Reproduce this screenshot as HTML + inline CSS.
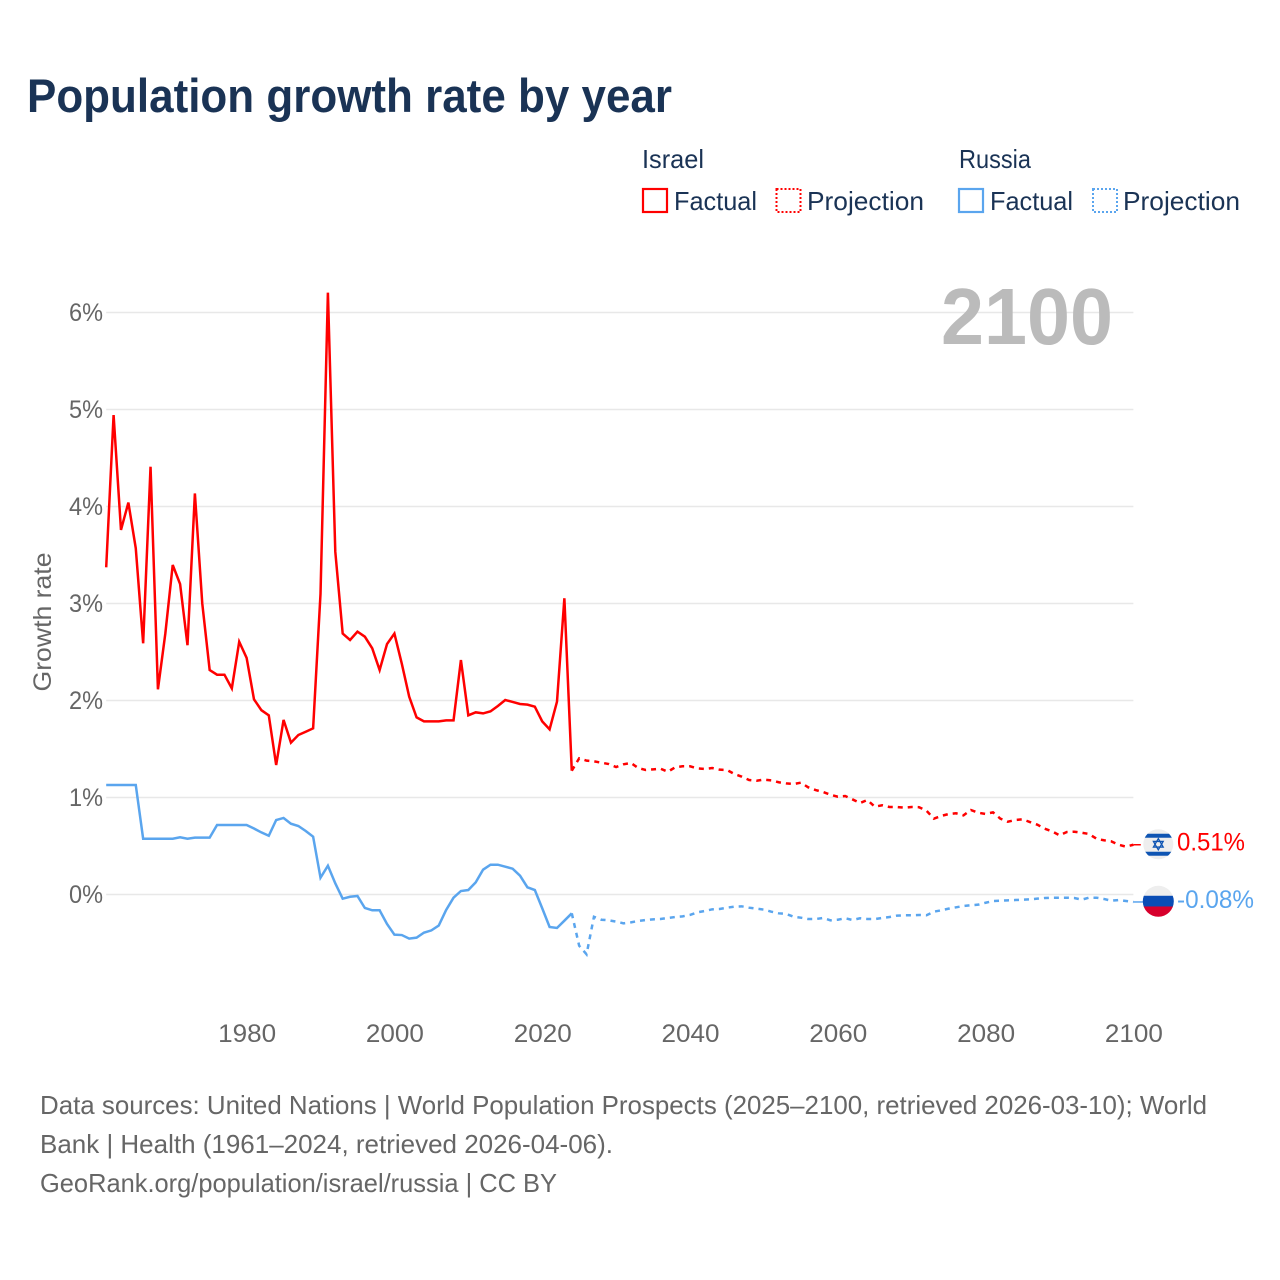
<!DOCTYPE html>
<html lang="en">
<head>
<meta charset="utf-8">
<title>Population growth rate by year</title>
<style>
html,body{margin:0;padding:0;background:#fff;}
svg{display:block;font-family:"Liberation Sans",sans-serif;}
</style>
</head>
<body>
<svg id="chart" xmlns="http://www.w3.org/2000/svg" width="1280" height="1280" viewBox="0 0 1280 1280">
  <rect x="0" y="0" width="1280" height="1280" fill="#ffffff"/>
  <text x="27" y="112" font-size="47" font-weight="700" fill="#1a3355" textLength="645" lengthAdjust="spacingAndGlyphs">Population growth rate by year</text>

  <g font-size="26" fill="#1a3355">
    <text x="642" y="168" textLength="62" lengthAdjust="spacingAndGlyphs">Israel</text>
    <text x="959" y="168" textLength="72" lengthAdjust="spacingAndGlyphs">Russia</text>
    <g>
      <rect x="643" y="189" width="24" height="23" fill="none" stroke="#ff0000" stroke-width="2.2"/>
      <text x="674" y="210" textLength="83" lengthAdjust="spacingAndGlyphs">Factual</text>
    </g>
    <g>
      <rect x="776.5" y="189" width="24" height="23" fill="none" stroke="#ff0000" stroke-width="2" stroke-dasharray="2 2"/>
      <text x="807" y="210" textLength="117" lengthAdjust="spacingAndGlyphs">Projection</text>
    </g>
    <g>
      <rect x="959" y="189" width="24" height="23" fill="none" stroke="#5aa5ee" stroke-width="2.2"/>
      <text x="990" y="210" textLength="83" lengthAdjust="spacingAndGlyphs">Factual</text>
    </g>
    <g>
      <rect x="1093" y="189" width="24" height="23" fill="none" stroke="#5aa5ee" stroke-width="2" stroke-dasharray="2 2"/>
      <text x="1123" y="210" textLength="117" lengthAdjust="spacingAndGlyphs">Projection</text>
    </g>
  </g>

  <g id="grid"></g>
  <g id="yticks" font-size="25" fill="#666666" text-anchor="end"></g>
  <g id="xticks" font-size="25" fill="#666666" text-anchor="middle"></g>
  <text transform="translate(51,622) rotate(-90)" font-size="25" fill="#666666" text-anchor="middle" textLength="139" lengthAdjust="spacingAndGlyphs">Growth rate</text>
  <text x="941" y="344" font-size="80" font-weight="700" fill="#bbbbbb" textLength="172" lengthAdjust="spacingAndGlyphs">2100</text>

  <g id="series"></g>
  <g id="ends"></g>

  <g font-size="26" fill="#666666">
    <text x="40" y="1114" textLength="1167" lengthAdjust="spacingAndGlyphs">Data sources: United Nations | World Population Prospects (2025–2100, retrieved 2026-03-10); World</text>
    <text x="40" y="1153" textLength="573" lengthAdjust="spacingAndGlyphs">Bank | Health (1961–2024, retrieved 2026-04-06).</text>
    <text x="40" y="1192" textLength="517" lengthAdjust="spacingAndGlyphs">GeoRank.org/population/israel/russia | CC BY</text>
  </g>
</svg>
<script>
const firstYear = 1961;
const yTickValues = [0, 1, 2, 3, 4, 5, 6];
const yTickLabels = ["0%", "1%", "2%", "3%", "4%", "5%", "6%"];
const xTickYears = [1980, 2000, 2020, 2040, 2060, 2080, 2100];
const xTickLabels = ["1980", "2000", "2020", "2040", "2060", "2080", "2100"];

// Israel: factual 1961-2024
const israelFactual = [
  3.373,4.943,3.758,4.04,3.57,2.59,4.41,2.115,2.69,3.397,
  3.2,2.57,4.135,3.0,2.314,2.266,2.266,2.125,2.606,2.44,
  2.012,1.90,1.847,1.335,1.80,1.565,1.644,1.678,1.713,3.10,
  6.204,3.534,2.69,2.624,2.71,2.658,2.538,2.314,2.582,2.69,
  2.38,2.04,1.826,1.785,1.785,1.785,1.795,1.795,2.417,1.847,
  1.878,1.867,1.888,1.943,2.005,1.985,1.964,1.957,1.936,1.785,
  1.703,1.988,3.054,1.276
];
// Israel: projection 2025-2100
const israelProjection = [
  1.404,1.38,1.373,1.359,1.345,1.314,1.342,1.356,1.304,1.284,
  1.29,1.297,1.266,1.311,1.322,1.322,1.30,1.294,1.304,1.287,
  1.284,1.242,1.215,1.18,1.173,1.184,1.177,1.157,1.146,1.139,
  1.153,1.105,1.077,1.057,1.029,1.008,1.015,0.98,0.943,0.974,
  0.905,0.92,0.902,0.902,0.895,0.902,0.9,0.864,0.782,0.81,
  0.83,0.837,0.816,0.871,0.843,0.83,0.847,0.782,0.75,0.768,
  0.775,0.747,0.72,0.678,0.651,0.61,0.644,0.647,0.637,0.624,
  0.575,0.559,0.548,0.513,0.493,0.513
];
// Russia: factual 1961-2024
const russiaFactual = [
  1.129,1.129,1.129,1.129,1.129,0.575,0.575,0.575,0.575,0.575,
  0.59,0.575,0.586,0.586,0.586,0.716,0.716,0.716,0.716,0.716,
  0.68,0.64,0.606,0.768,0.789,0.73,0.706,0.655,0.596,0.173,
  0.297,0.115,-0.043,-0.023,-0.015,-0.139,-0.163,-0.163,-0.304,-0.414,
  -0.418,-0.455,-0.445,-0.393,-0.37,-0.32,-0.16,-0.033,0.036,0.046,
  0.125,0.256,0.307,0.307,0.287,0.266,0.194,0.074,0.046,-0.142,
  -0.335,-0.345,-0.27,-0.194
];
// Russia: projection 2025-2100
const russiaProjection = [
  -0.528,-0.617,-0.23,-0.26,-0.266,-0.28,-0.297,-0.287,-0.273,-0.263,
  -0.256,-0.253,-0.242,-0.232,-0.225,-0.211,-0.184,-0.17,-0.153,-0.149,
  -0.136,-0.125,-0.122,-0.136,-0.146,-0.156,-0.177,-0.194,-0.2,-0.229,
  -0.239,-0.253,-0.253,-0.242,-0.266,-0.26,-0.245,-0.263,-0.245,-0.253,
  -0.253,-0.242,-0.232,-0.218,-0.214,-0.214,-0.211,-0.214,-0.177,-0.163,
  -0.146,-0.132,-0.119,-0.111,-0.105,-0.085,-0.067,-0.064,-0.06,-0.057,
  -0.053,-0.05,-0.043,-0.036,-0.033,-0.033,-0.033,-0.036,-0.053,-0.033,
  -0.033,-0.046,-0.064,-0.057,-0.067,-0.077
];
const endValueLabels = ["0.51%", "-0.08%"];

const NS = "http://www.w3.org/2000/svg";
const RED = "#ff0000";
const BLUE = "#5aa5ee";
const X_END = 2100;

function xScale(year) { return 106.2 + (year - 1961) * 7.39; }
function yScale(value) { return 894.5 - value * 97; }

function make(tag, attrs, parent) {
  const el = document.createElementNS(NS, tag);
  for (const k in attrs) el.setAttribute(k, attrs[k]);
  parent.appendChild(el);
  return el;
}

const gridG = document.getElementById("grid");
const yG = document.getElementById("yticks");
yTickValues.forEach(function (v, i) {
  const ln = make("line", {x1: xScale(firstYear), x2: xScale(X_END), y1: yScale(v), y2: yScale(v), stroke: "#e8e8e8", "stroke-width": 1.5}, gridG);
  
  
  const t = make("text", {x: 103, y: yScale(v) + 8.5, textLength: 34, lengthAdjust: "spacingAndGlyphs"}, yG);
  
  
  t.textContent = yTickLabels[i];
});

const xG = document.getElementById("xticks");
xTickYears.forEach(function (yr, i) {
  const t = make("text", {x: xScale(yr) + 0.5, y: 1042, textLength: 58, lengthAdjust: "spacingAndGlyphs"}, xG);
  
  
  t.textContent = xTickLabels[i];
});

function linePoints(values, startYear) {
  return values.map(function (v, i) {
    return xScale(startYear + i).toFixed(2) + "," + yScale(v).toFixed(2);
  }).join(" ");
}

const seriesG = document.getElementById("series");
function drawSeries(factual, projection, color) {
  const solid = make("polyline", {points: linePoints(factual, firstYear), fill: "none", stroke: color, "stroke-width": 2.5, "stroke-linejoin": "miter"}, seriesG);
  
  
  const lastYear = firstYear + factual.length - 1;
  const proj = [factual[factual.length - 1]].concat(projection);
  const dashed = make("polyline", {points: linePoints(proj, lastYear), fill: "none", stroke: color, "stroke-width": 2.5, "stroke-dasharray": "5 5"}, seriesG);
  
  
}
drawSeries(israelFactual, israelProjection, RED);
drawSeries(russiaFactual, russiaProjection, BLUE);

const endsG = document.getElementById("ends");
const FLAG_X = 1158.3;

function drawConnector(value, color, endX) {
  const y = yScale(value);
  const c = make("line", {x1: xScale(X_END), x2: endX, y1: y, y2: y, stroke: color, "stroke-width": 1.5}, endsG);
  
  
}

function drawEndLabel(value, text, color, width) {
  const t = make("text", {x: 1177, y: yScale(value) + 6, "font-size": 25, fill: color, textLength: width, lengthAdjust: "spacingAndGlyphs"}, endsG);
  
  
  t.textContent = text;
}

function israelFlag(value) {
  const g = make("g", {transform: "translate(" + FLAG_X + "," + (yScale(value) - 0.5) + ")"}, endsG);
  
  
  const cp = make("clipPath", {id: "clip-il"}, g);
  make("circle", {cx: 0, cy: 0, r: 15}, cp);
  const inner = make("g", {"clip-path": "url(#clip-il)"}, g);
  make("rect", {x: -16, y: -16, width: 32, height: 32, fill: "#eeeeee"}, inner);
  make("rect", {x: -16, y: -10.5, width: 32, height: 4, fill: "#0f55b3"}, inner);
  make("rect", {x: -16, y: 7.5, width: 32, height: 4, fill: "#0f55b3"}, inner);
  make("polygon", {points: "0,-5.6 4.9,2.8 -4.9,2.8", fill: "none", stroke: "#0f55b3", "stroke-width": 1.3}, inner);
  make("polygon", {points: "0,5.6 4.9,-2.8 -4.9,-2.8", fill: "none", stroke: "#0f55b3", "stroke-width": 1.3}, inner);
}

function russiaFlag(value) {
  const g = make("g", {transform: "translate(" + FLAG_X + "," + (yScale(value) - 0.7) + ")"}, endsG);
  
  
  const cp = make("clipPath", {id: "clip-ru"}, g);
  make("circle", {cx: 0, cy: 0, r: 15.5}, cp);
  const inner = make("g", {"clip-path": "url(#clip-ru)"}, g);
  make("rect", {x: -16, y: -16, width: 32, height: 11, fill: "#eeeeee"}, inner);
  make("rect", {x: -16, y: -5.5, width: 32, height: 11, fill: "#0a4db5"}, inner);
  make("rect", {x: -16, y: 5.2, width: 32, height: 11, fill: "#d7002c"}, inner);
}

const israelLast = israelProjection[israelProjection.length - 1];
const russiaLast = russiaProjection[russiaProjection.length - 1];
drawConnector(israelLast, RED, FLAG_X - 17.5);
drawConnector(russiaLast, BLUE, FLAG_X - 15);
israelFlag(israelLast);
russiaFlag(russiaLast);
drawEndLabel(israelLast, endValueLabels[0], RED, 68);
drawEndLabel(russiaLast, endValueLabels[1], BLUE, 77);
</script>
</body>
</html>
